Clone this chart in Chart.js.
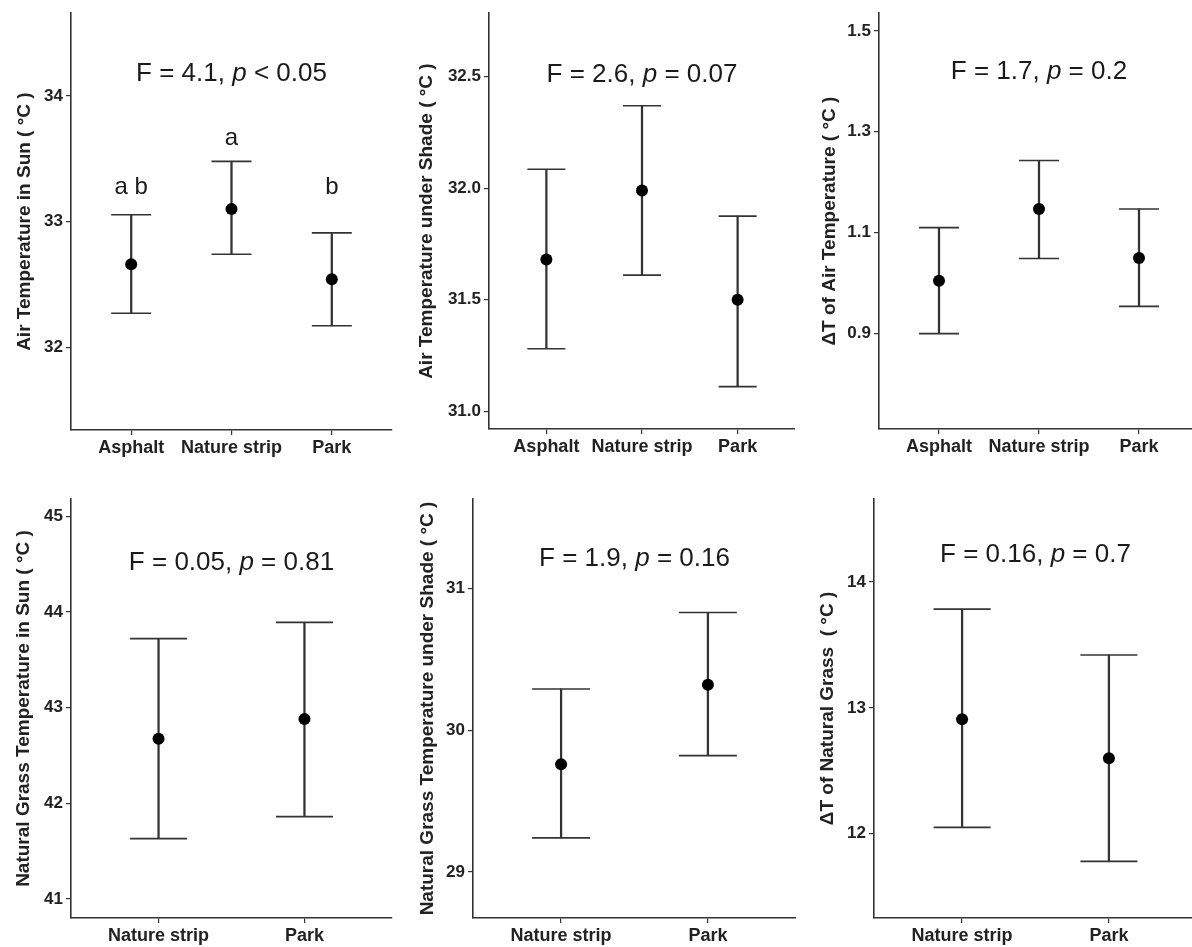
<!DOCTYPE html>
<html>
<head>
<meta charset="utf-8">
<script src="https://cdn.jsdelivr.net/npm/chart.js@4.4.1/dist/chart.umd.min.js"></script>
<style>
  html, body { margin: 0; padding: 0; background: #fff; overflow: hidden; }
  body { width: 1192px; height: 947px; position: relative; }
  canvas { position: absolute; }
</style>
</head>
<body>
<canvas id="airSun"></canvas>
<canvas id="airShade"></canvas>
<canvas id="airDelta"></canvas>
<canvas id="grassSun"></canvas>
<canvas id="grassShade"></canvas>
<canvas id="grassDelta"></canvas>
<script>
// categories
var airCats = ['Asphalt', 'Nature strip', 'Park'];
var grassCats = ['Nature strip', 'Park'];

// air temperature in sun
var airSunMean = [32.66, 33.10, 32.54];
var airSunLow = [32.27, 32.74, 32.17];
var airSunHigh = [33.055, 33.48, 32.91];
var airSunTicks = [32, 33, 34];
var airSunStat = ['F = 4.1, ', 'p', ' < 0.05'];
var airSunLetters = ['a b', 'a', 'b'];
var airSunLetterY = [33.27, 33.66, 33.27];

// air temperature under shade
var airShadeMean = [31.68, 31.99, 31.50];
var airShadeLow = [31.28, 31.61, 31.11];
var airShadeHigh = [32.085, 32.37, 31.875];
var airShadeTicks = [31.0, 31.5, 32.0, 32.5];
var airShadeStat = ['F = 2.6, ', 'p', ' = 0.07'];

// delta T of air temperature
var airDeltaMean = [1.005, 1.147, 1.05];
var airDeltaLow = [0.90, 1.049, 0.954];
var airDeltaHigh = [1.11, 1.243, 1.147];
var airDeltaTicks = [0.9, 1.1, 1.3, 1.5];
var airDeltaStat = ['F = 1.7, ', 'p', ' = 0.2'];

// natural grass in sun
var grassSunMean = [42.675, 42.88];
var grassSunLow = [41.63, 41.86];
var grassSunHigh = [43.72, 43.89];
var grassSunTicks = [41, 42, 43, 44, 45];
var grassSunStat = ['F = 0.05, ', 'p', ' = 0.81'];

// natural grass under shade
var grassShadeMean = [29.76, 30.32];
var grassShadeLow = [29.24, 29.82];
var grassShadeHigh = [30.29, 30.83];
var grassShadeTicks = [29, 30, 31];
var grassShadeStat = ['F = 1.9, ', 'p', ' = 0.16'];

// delta T of natural grass
var grassDeltaMean = [12.91, 12.60];
var grassDeltaLow = [12.05, 11.78];
var grassDeltaHigh = [13.785, 13.42];
var grassDeltaTicks = [12, 13, 14];
var grassDeltaStat = ['F = 0.16, ', 'p', ' = 0.7'];

var FONT = "'Liberation Sans', Arial, sans-serif";
Chart.defaults.font.family = FONT;

// draws the F / p text and the letters above the bars
var panelText = {
  id: 'panelText',
  afterDatasetsDraw: function(chart, args, opts) {
    var ctx = chart.ctx, a = chart.chartArea;
    ctx.save();
    ctx.fillStyle = '#1a1a1a';
    ctx.textBaseline = 'middle';
    ctx.textAlign = 'left';
    var normal = '26px ' + FONT;
    var fonts = [normal, 'italic ' + normal, normal];
    var widths = opts.stat.map(function(s, i) { ctx.font = fonts[i]; return ctx.measureText(s).width; });
    var x = (a.left + a.right) / 2 - (widths[0] + widths[1] + widths[2]) / 2;
    var y = a.top + opts.offset;
    opts.stat.forEach(function(s, i) {
      ctx.font = fonts[i];
      ctx.fillText(s, x, y);
      x += widths[i];
    });
    if (opts.letters) {
      ctx.textAlign = 'center';
      ctx.font = '24px ' + FONT;
      var xs = chart.scales.x, ys = chart.scales.y;
      opts.letters.forEach(function(t, i) {
        ctx.fillText(t, xs.getPixelForValue(i + 1), ys.getPixelForValue(opts.letterY[i]));
      });
    }
    ctx.restore();
  }
};

function makePanel(id, box, cats, mean, low, high, yMin, yMax, yTicks, dec, yTitle, stat, letters, letterY) {
  var cv = document.getElementById(id);
  cv.width = box.width;
  cv.height = box.height;
  cv.style.left = box.left + 'px';
  cv.style.top = box.top + 'px';

  new Chart(cv, {
    type: 'bar',
    data: {
      datasets: [
        {
          type: 'line',
          showLine: false,
          order: 0,
          data: cats.map(function(c, i) { return {x: i + 1, y: mean[i]}; }),
          pointRadius: 6,
          pointBackgroundColor: '#000',
          pointBorderColor: '#000',
          pointBorderWidth: 0
        },
        {
          type: 'line',
          showLine: false,
          order: 1,
          data: cats.map(function(c, i) { return {x: i + 1, y: high[i]}; })
            .concat(cats.map(function(c, i) { return {x: i + 1, y: low[i]}; })),
          pointStyle: 'line',
          pointRadius: box.cap,
          pointBorderColor: '#333',
          pointBorderWidth: 1.6
        },
        {
          type: 'bar',
          order: 2,
          data: cats.map(function(c, i) { return {x: i + 1, y: [low[i], high[i]]}; }),
          backgroundColor: '#333',
          borderWidth: 0,
          barThickness: 1.6,
          grouped: false
        }
      ]
    },
    options: {
      responsive: false,
      animation: false,
      events: [],
      layout: {
        autoPadding: false,
        padding: {left: 0, top: box.areaTop - box.top, right: box.left + box.width - box.areaRight, bottom: 0}
      },
      plugins: {
        legend: {display: false},
        tooltip: {enabled: false},
        panelText: {stat: stat, offset: box.statOffset, letters: letters, letterY: letterY}
      },
      scales: {
        x: {
          type: 'linear',
          min: 0.4,
          max: cats.length + 0.6,
          offset: false,
          afterFit: function(s) { s.height = box.top + box.height - box.areaBottom; },
          afterBuildTicks: function(s) { s.ticks = cats.map(function(c, i) { return {value: i + 1}; }); },
          ticks: {
            callback: function(v) { return cats[v - 1]; },
            font: {size: 18, weight: 'bold'},
            color: '#222',
            padding: 2,
            maxRotation: 0,
            autoSkip: false
          },
          grid: {offset: false, drawOnChartArea: false, drawTicks: true, tickLength: 5, color: '#333', lineWidth: 1.2},
          border: {display: true, color: '#333', width: 1.6}
        },
        y: {
          type: 'linear',
          min: yMin,
          max: yMax,
          afterFit: function(s) { s.width = box.areaLeft - box.left; },
          afterBuildTicks: function(s) { s.ticks = yTicks.map(function(v) { return {value: v}; }); },
          ticks: {
            callback: function(v) { return v.toFixed(dec); },
            font: {size: 17, weight: 'bold'},
            color: '#222',
            padding: 3
          },
          title: {
            display: true,
            text: yTitle,
            font: {size: 19, weight: 'bold'},
            color: '#222',
            padding: {top: box.titleX - box.left - 11.4, bottom: 0}
          },
          grid: {drawOnChartArea: false, drawTicks: true, tickLength: 5, color: '#333', lineWidth: 1.2},
          border: {display: true, color: '#333', width: 1.6}
        }
      }
    },
    plugins: [panelText]
  });
}

makePanel('airSun',
  {left: 0, top: 0, width: 395, height: 470, areaLeft: 71, areaTop: 10, areaRight: 392, areaBottom: 430, titleX: 25, cap: 20, statOffset: 61},
  airCats, airSunMean, airSunLow, airSunHigh, 31.34, 34.66, airSunTicks, 0,
  'Air Temperature in Sun ( °C )', airSunStat, airSunLetters, airSunLetterY);

makePanel('airShade',
  {left: 395, top: 0, width: 400, height: 470, areaLeft: 489, areaTop: 10, areaRight: 795, areaBottom: 429, titleX: 427, cap: 19, statOffset: 62},
  airCats, airShadeMean, airShadeLow, airShadeHigh, 30.92, 32.785, airShadeTicks, 1,
  'Air Temperature under Shade ( °C )', airShadeStat);

makePanel('airDelta',
  {left: 795, top: 0, width: 405, height: 470, areaLeft: 879, areaTop: 10, areaRight: 1199, areaBottom: 429, titleX: 830, cap: 20, statOffset: 59},
  airCats, airDeltaMean, airDeltaLow, airDeltaHigh, 0.711, 1.535, airDeltaTicks, 1,
  'ΔT of Air Temperature ( °C )', airDeltaStat);

makePanel('grassSun',
  {left: 0, top: 470, width: 395, height: 477, areaLeft: 71, areaTop: 499, areaRight: 392, areaBottom: 918, titleX: 24, cap: 28.5, statOffset: 64},
  grassCats, grassSunMean, grassSunLow, grassSunHigh, 40.80, 45.18, grassSunTicks, 0,
  'Natural Grass Temperature in Sun ( °C )', grassSunStat);

makePanel('grassShade',
  {left: 395, top: 470, width: 401, height: 477, areaLeft: 473, areaTop: 499, areaRight: 796, areaBottom: 918, titleX: 428, cap: 29, statOffset: 60},
  grassCats, grassShadeMean, grassShadeLow, grassShadeHigh, 28.675, 31.63, grassShadeTicks, 0,
  'Natural Grass Temperature under Shade ( °C )', grassShadeStat);

makePanel('grassDelta',
  {left: 796, top: 470, width: 404, height: 477, areaLeft: 874, areaTop: 499, areaRight: 1197, areaBottom: 918, titleX: 828, cap: 28.5, statOffset: 56},
  grassCats, grassDeltaMean, grassDeltaLow, grassDeltaHigh, 11.33, 14.66, grassDeltaTicks, 0,
  'ΔT of Natural Grass  ( °C )', grassDeltaStat);
</script>
</body>
</html>
